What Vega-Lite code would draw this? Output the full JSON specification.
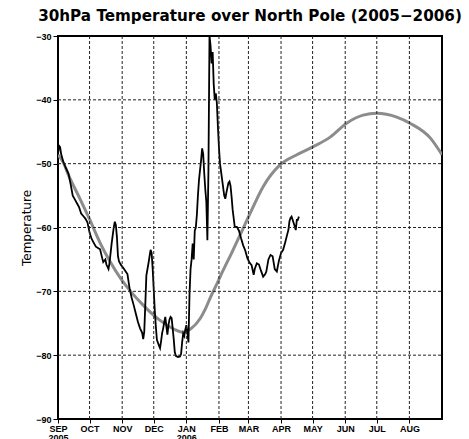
{
  "$schema": "https://vega.github.io/schema/vega-lite/v6.json",
  "width": 384,
  "height": 383,
  "autosize": "none",
  "padding": {"left": 58, "top": 36, "right": 27, "bottom": 20},
  "background": "white",
  "title": {"text": "30hPa Temperature over North Pole (2005−2006)", "font": "DejaVu Sans", "fontSize": 15.2, "fontWeight": "bold", "color": "black", "anchor": "middle", "offset": 8},
  "config": {
    "view": {"stroke": "black", "strokeWidth": 2},
    "axis": {
      "domain": false,
      "grid": false,
      "tickColor": "black",
      "tickWidth": 1,
      "labelColor": "black",
      "labelFont": "Liberation Sans",
      "labelFontWeight": "bold",
      "titleColor": "black"
    }
  },
  "resolve": {"axis": {"x": "independent", "y": "independent"}},
  "datasets": {
    "gridx": [
      {"date": "2005-10-01"}, {"date": "2005-11-01"}, {"date": "2005-12-01"}, {"date": "2006-01-01"},
      {"date": "2006-02-01"}, {"date": "2006-03-01"}, {"date": "2006-04-01"}, {"date": "2006-05-01"},
      {"date": "2006-06-01"}, {"date": "2006-07-01"}, {"date": "2006-08-01"}
    ],
    "gridy": [
      {"temp": -80, "start": "2005-09-01", "end": "2006-09-01"},
      {"temp": -70, "start": "2005-09-01", "end": "2006-09-01"},
      {"temp": -60, "start": "2005-09-01", "end": "2006-09-01"},
      {"temp": -50, "start": "2005-09-01", "end": "2006-09-01"},
      {"temp": -40, "start": "2005-09-01", "end": "2006-09-01"}
    ],
    "clim": [
      {"date": "2005-09-01", "temp": -48.6},
      {"date": "2005-09-06", "temp": -49.8},
      {"date": "2005-09-11", "temp": -51.8},
      {"date": "2005-09-21", "temp": -55.2},
      {"date": "2005-10-01", "temp": -58.7},
      {"date": "2005-10-11", "temp": -62.4},
      {"date": "2005-10-21", "temp": -65.5},
      {"date": "2005-10-31", "temp": -68.1},
      {"date": "2005-11-10", "temp": -70.2},
      {"date": "2005-11-20", "temp": -72.0},
      {"date": "2005-11-30", "temp": -73.6},
      {"date": "2005-12-10", "temp": -74.9},
      {"date": "2005-12-20", "temp": -75.9},
      {"date": "2005-12-28", "temp": -76.4},
      {"date": "2006-01-05", "temp": -75.9},
      {"date": "2006-01-14", "temp": -74.3},
      {"date": "2006-01-19", "temp": -72.8},
      {"date": "2006-01-24", "temp": -70.9},
      {"date": "2006-01-29", "temp": -69.2},
      {"date": "2006-02-03", "temp": -67.4},
      {"date": "2006-02-13", "temp": -64.0},
      {"date": "2006-02-23", "temp": -60.5},
      {"date": "2006-03-02", "temp": -58.0},
      {"date": "2006-03-15", "temp": -53.6},
      {"date": "2006-03-31", "temp": -50.2},
      {"date": "2006-04-16", "temp": -48.6},
      {"date": "2006-05-02", "temp": -47.3},
      {"date": "2006-05-18", "temp": -45.8},
      {"date": "2006-06-02", "temp": -43.7},
      {"date": "2006-06-18", "temp": -42.4},
      {"date": "2006-07-01", "temp": -42.1},
      {"date": "2006-07-20", "temp": -42.7},
      {"date": "2006-08-02", "temp": -43.7},
      {"date": "2006-08-21", "temp": -46.0},
      {"date": "2006-09-01", "temp": -48.6}
    ],
    "obs": [
      {"date": "2005-09-01", "temp": -48.5},
      {"date": "2005-09-02", "temp": -47.2},
      {"date": "2005-09-03", "temp": -47.4},
      {"date": "2005-09-04", "temp": -48.5},
      {"date": "2005-09-06", "temp": -49.7},
      {"date": "2005-09-08", "temp": -50.5},
      {"date": "2005-09-11", "temp": -51.6},
      {"date": "2005-09-13", "temp": -53.2},
      {"date": "2005-09-15", "temp": -55.0},
      {"date": "2005-09-17", "temp": -55.6},
      {"date": "2005-09-19", "temp": -56.2},
      {"date": "2005-09-21", "temp": -56.8},
      {"date": "2005-09-23", "temp": -57.8},
      {"date": "2005-09-25", "temp": -58.2},
      {"date": "2005-09-27", "temp": -58.6},
      {"date": "2005-09-29", "temp": -59.2},
      {"date": "2005-10-01", "temp": -60.8},
      {"date": "2005-10-03", "temp": -61.8},
      {"date": "2005-10-05", "temp": -62.4},
      {"date": "2005-10-07", "temp": -63.0},
      {"date": "2005-10-09", "temp": -63.2},
      {"date": "2005-10-11", "temp": -63.4},
      {"date": "2005-10-13", "temp": -64.8},
      {"date": "2005-10-14", "temp": -65.4},
      {"date": "2005-10-16", "temp": -65.0},
      {"date": "2005-10-17", "temp": -65.8},
      {"date": "2005-10-19", "temp": -66.5},
      {"date": "2005-10-20", "temp": -65.5},
      {"date": "2005-10-22", "temp": -62.5},
      {"date": "2005-10-24", "temp": -60.0},
      {"date": "2005-10-25", "temp": -59.1},
      {"date": "2005-10-26", "temp": -59.6},
      {"date": "2005-10-27", "temp": -61.5},
      {"date": "2005-10-28", "temp": -64.5},
      {"date": "2005-10-29", "temp": -65.3},
      {"date": "2005-10-31", "temp": -65.9},
      {"date": "2005-11-02", "temp": -66.3},
      {"date": "2005-11-04", "temp": -66.8},
      {"date": "2005-11-06", "temp": -67.3},
      {"date": "2005-11-08", "temp": -69.5},
      {"date": "2005-11-10", "temp": -71.0},
      {"date": "2005-11-12", "temp": -72.2},
      {"date": "2005-11-14", "temp": -73.5},
      {"date": "2005-11-16", "temp": -74.8},
      {"date": "2005-11-18", "temp": -75.8},
      {"date": "2005-11-20", "temp": -76.5},
      {"date": "2005-11-21", "temp": -77.5},
      {"date": "2005-11-22", "temp": -76.3},
      {"date": "2005-11-23", "temp": -72.0},
      {"date": "2005-11-24", "temp": -67.5},
      {"date": "2005-11-26", "temp": -65.6},
      {"date": "2005-11-28", "temp": -63.5},
      {"date": "2005-11-29", "temp": -64.0},
      {"date": "2005-11-30", "temp": -66.5},
      {"date": "2005-12-01", "temp": -69.8},
      {"date": "2005-12-02", "temp": -73.0},
      {"date": "2005-12-03", "temp": -75.5},
      {"date": "2005-12-04", "temp": -77.6},
      {"date": "2005-12-06", "temp": -78.5},
      {"date": "2005-12-07", "temp": -78.9},
      {"date": "2005-12-08", "temp": -77.8},
      {"date": "2005-12-09", "temp": -76.5},
      {"date": "2005-12-10", "temp": -75.8},
      {"date": "2005-12-11", "temp": -74.8},
      {"date": "2005-12-12", "temp": -74.0},
      {"date": "2005-12-13", "temp": -75.5},
      {"date": "2005-12-14", "temp": -76.8},
      {"date": "2005-12-15", "temp": -75.3},
      {"date": "2005-12-16", "temp": -74.4},
      {"date": "2005-12-17", "temp": -74.0},
      {"date": "2005-12-18", "temp": -74.2},
      {"date": "2005-12-19", "temp": -75.8},
      {"date": "2005-12-20", "temp": -77.5},
      {"date": "2005-12-21", "temp": -79.5},
      {"date": "2005-12-22", "temp": -80.1},
      {"date": "2005-12-24", "temp": -80.3},
      {"date": "2005-12-26", "temp": -80.2},
      {"date": "2005-12-27", "temp": -79.8},
      {"date": "2005-12-28", "temp": -78.0},
      {"date": "2005-12-29", "temp": -76.6},
      {"date": "2005-12-30", "temp": -77.0},
      {"date": "2005-12-31", "temp": -76.0},
      {"date": "2006-01-01", "temp": -75.3},
      {"date": "2006-01-02", "temp": -76.5},
      {"date": "2006-01-03", "temp": -78.0},
      {"date": "2006-01-04", "temp": -70.5},
      {"date": "2006-01-05", "temp": -66.5},
      {"date": "2006-01-06", "temp": -65.0},
      {"date": "2006-01-07", "temp": -62.5},
      {"date": "2006-01-08", "temp": -65.0},
      {"date": "2006-01-09", "temp": -60.5},
      {"date": "2006-01-10", "temp": -60.0},
      {"date": "2006-01-11", "temp": -58.0},
      {"date": "2006-01-12", "temp": -55.0},
      {"date": "2006-01-13", "temp": -52.6},
      {"date": "2006-01-14", "temp": -51.0},
      {"date": "2006-01-15", "temp": -49.5},
      {"date": "2006-01-16", "temp": -47.6},
      {"date": "2006-01-17", "temp": -48.5},
      {"date": "2006-01-18", "temp": -51.5},
      {"date": "2006-01-19", "temp": -54.0},
      {"date": "2006-01-20", "temp": -56.0},
      {"date": "2006-01-21", "temp": -62.0},
      {"date": "2006-01-22", "temp": -51.0},
      {"date": "2006-01-23", "temp": -30.0},
      {"date": "2006-01-24", "temp": -31.5},
      {"date": "2006-01-25", "temp": -34.3},
      {"date": "2006-01-26", "temp": -32.5},
      {"date": "2006-01-27", "temp": -37.5},
      {"date": "2006-01-28", "temp": -40.0},
      {"date": "2006-01-29", "temp": -39.0},
      {"date": "2006-01-30", "temp": -40.5},
      {"date": "2006-01-31", "temp": -44.2},
      {"date": "2006-02-01", "temp": -47.5},
      {"date": "2006-02-02", "temp": -50.0},
      {"date": "2006-02-04", "temp": -52.5},
      {"date": "2006-02-06", "temp": -55.0},
      {"date": "2006-02-07", "temp": -55.5},
      {"date": "2006-02-08", "temp": -54.6},
      {"date": "2006-02-09", "temp": -53.8},
      {"date": "2006-02-10", "temp": -53.0},
      {"date": "2006-02-11", "temp": -52.8},
      {"date": "2006-02-12", "temp": -53.5},
      {"date": "2006-02-13", "temp": -55.2},
      {"date": "2006-02-14", "temp": -57.2},
      {"date": "2006-02-16", "temp": -59.9},
      {"date": "2006-02-18", "temp": -59.9},
      {"date": "2006-02-20", "temp": -60.5},
      {"date": "2006-02-22", "temp": -61.7},
      {"date": "2006-02-24", "temp": -62.8},
      {"date": "2006-02-26", "temp": -63.6},
      {"date": "2006-02-28", "temp": -64.8},
      {"date": "2006-03-02", "temp": -65.5},
      {"date": "2006-03-04", "temp": -65.9},
      {"date": "2006-03-06", "temp": -67.4},
      {"date": "2006-03-07", "temp": -66.5},
      {"date": "2006-03-09", "temp": -65.6},
      {"date": "2006-03-11", "temp": -65.8},
      {"date": "2006-03-13", "temp": -66.8},
      {"date": "2006-03-15", "temp": -67.7},
      {"date": "2006-03-17", "temp": -67.3},
      {"date": "2006-03-18", "temp": -66.9},
      {"date": "2006-03-20", "temp": -65.0},
      {"date": "2006-03-22", "temp": -64.3},
      {"date": "2006-03-24", "temp": -64.5},
      {"date": "2006-03-26", "temp": -66.5},
      {"date": "2006-03-28", "temp": -66.9},
      {"date": "2006-03-30", "temp": -65.2},
      {"date": "2006-04-01", "temp": -64.0},
      {"date": "2006-04-03", "temp": -63.5},
      {"date": "2006-04-05", "temp": -62.3},
      {"date": "2006-04-07", "temp": -61.0},
      {"date": "2006-04-08", "temp": -60.4},
      {"date": "2006-04-09", "temp": -59.0},
      {"date": "2006-04-10", "temp": -58.5},
      {"date": "2006-04-11", "temp": -58.3},
      {"date": "2006-04-12", "temp": -58.8},
      {"date": "2006-04-13", "temp": -59.3},
      {"date": "2006-04-14", "temp": -59.8},
      {"date": "2006-04-15", "temp": -60.4},
      {"date": "2006-04-16", "temp": -58.8},
      {"date": "2006-04-17", "temp": -58.8},
      {"date": "2006-04-18", "temp": -58.3}
    ]
  },
  "layer": [
    {
      "data": {"name": "clim"},
      "mark": {"type": "line", "color": "#8c8c8c", "strokeWidth": 3, "clip": true, "interpolate": "monotone"},
      "encoding": {
        "x": {
          "field": "date",
          "type": "temporal",
          "scale": {"type": "utc", "domain": [{"year": 2005, "month": 9, "date": 1, "utc": true}, {"year": 2006, "month": 9, "date": 1, "utc": true}]},
          "axis": {
            "title": null,
            "grid": false,
            "zindex": 0,
            "values": [
              {"year": 2005, "month": 9, "date": 1, "utc": true},
              {"year": 2005, "month": 10, "date": 1, "utc": true},
              {"year": 2005, "month": 11, "date": 1, "utc": true},
              {"year": 2005, "month": 12, "date": 1, "utc": true},
              {"year": 2006, "month": 1, "date": 1, "utc": true},
              {"year": 2006, "month": 2, "date": 1, "utc": true},
              {"year": 2006, "month": 3, "date": 1, "utc": true},
              {"year": 2006, "month": 4, "date": 1, "utc": true},
              {"year": 2006, "month": 5, "date": 1, "utc": true},
              {"year": 2006, "month": 6, "date": 1, "utc": true},
              {"year": 2006, "month": 7, "date": 1, "utc": true},
              {"year": 2006, "month": 8, "date": 1, "utc": true}
            ],
            "labelExpr": "utcmonth(datum.value)==8 ? ['SEP','2005'] : utcmonth(datum.value)==0 ? ['JAN','2006'] : upper(utcFormat(datum.value,'%b'))",
            "labelFontSize": 9,
            "labelLineHeight": 9,
            "labelPadding": 1,
            "labelBaseline": "top",
            "labelFlush": false,
            "labelOverlap": false,
            "tickSize": 4
          }
        },
        "y": {
          "field": "temp",
          "type": "quantitative",
          "scale": {"domain": [-90, -30], "nice": false, "zero": false},
          "axis": {
            "title": "Temperature",
            "grid": false,
            "zindex": 0,
            "titleFont": "DejaVu Sans",
            "titleFontSize": 12,
            "titleFontWeight": "normal",
            "titlePadding": 2,
            "values": [-90, -80, -70, -60, -50, -40, -30],
            "labelFontSize": 9,
            "labelPadding": 2,
            "labelFlush": false,
            "tickSize": 5
          }
        }
      }
    },
    {
      "data": {"name": "obs"},
      "mark": {"type": "line", "color": "black", "strokeWidth": 1.8, "clip": true},
      "encoding": {
        "x": {"field": "date", "type": "temporal", "axis": null},
        "y": {"field": "temp", "type": "quantitative", "axis": null}
      }
    },
    {
      "data": {"name": "gridx"},
      "mark": {"type": "rule", "color": "#222222", "strokeWidth": 1, "strokeDash": [3, 2]},
      "encoding": {"x": {"field": "date", "type": "temporal", "axis": null}}
    },
    {
      "data": {"name": "gridy"},
      "mark": {"type": "rule", "color": "#222222", "strokeWidth": 1, "strokeDash": [3, 2]},
      "encoding": {
        "y": {"field": "temp", "type": "quantitative", "axis": null},
        "x": {"field": "start", "type": "temporal", "axis": null},
        "x2": {"field": "end"}
      }
    }
  ]
}
